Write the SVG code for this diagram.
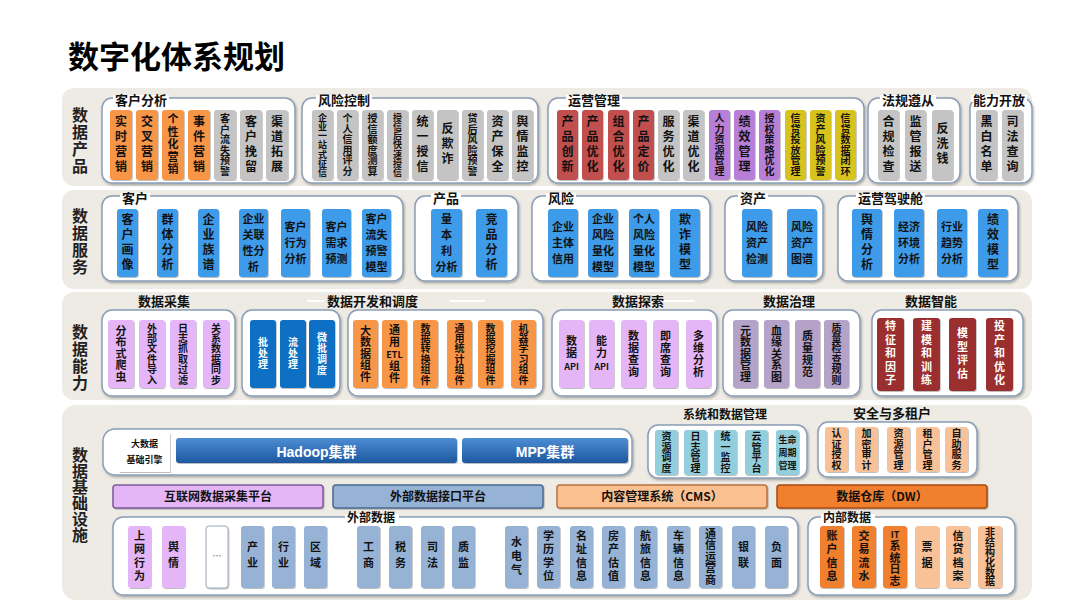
<svg xmlns="http://www.w3.org/2000/svg" width="1080" height="607" viewBox="0 0 1080 607">
<defs>
<filter id="sh" x="-10%" y="-10%" width="130%" height="130%"><feDropShadow dx="1" dy="1.5" stdDeviation="1" flood-color="#000" flood-opacity="0.3"/></filter>
<filter id="sb" x="-20%" y="-10%" width="150%" height="130%"><feDropShadow dx="0.8" dy="1" stdDeviation="0.6" flood-color="#000" flood-opacity="0.25"/></filter>
<linearGradient id="hg" x1="0" y1="0" x2="0" y2="1"><stop offset="0" stop-color="#4d8dd4"/><stop offset="1" stop-color="#1d58a0"/></linearGradient>
<style>
.band{fill:#edebe3}
.grp{fill:#fff;stroke:#8b9db6;stroke-width:1.5;filter:url(#sh)}
.t{font-family:"Noto Sans CJK SC","Noto Sans CJK JP",sans-serif;font-weight:700;text-anchor:middle;fill:#111}
.v{writing-mode:vertical-rl;text-anchor:middle}
.gt{font-size:13px;text-anchor:start}
.L16{font-size:16px;letter-spacing:1px;fill:#222}
.w{fill:#fff}
.f12{font-size:12px}.f11{font-size:11px}.f10{font-size:10px}.f9{font-size:9px}
.a12{font-size:12px;letter-spacing:3px}.a11{font-size:11px;letter-spacing:1.5px}.a10{font-size:10px;letter-spacing:0.5px}.a9{font-size:9px;letter-spacing:0.2px}
.c11{font-size:11px;letter-spacing:1px}.c115{font-size:11px;letter-spacing:0.5px}.c10{font-size:10px;letter-spacing:0.4px}.cd{font-size:10px;letter-spacing:1px}.cr{font-size:11px;letter-spacing:2.5px}
.e2{font-size:11px;letter-spacing:5px}.e3{font-size:11px;letter-spacing:3px}.e4{font-size:11px;letter-spacing:2.5px}.e6{font-size:10px;letter-spacing:-0.2px}
.cv{fill:#fff}
.b{filter:url(#sb)}
.or{fill:#f79646}.gy{fill:#c4c4c4}.rd{fill:#c0504d}.pu{fill:#b77fd8}.ye{fill:#d8c31c}.bl{fill:#3d9be9}
.lv{fill:#e4b6f7}.db{fill:#1170c4}.gp{fill:#b4a2c9}.dr{fill:#9b2e2e}.lb{fill:#93cedd}.pe{fill:#f9c197}.eb{fill:#96b3d6}.o2{fill:#f07f2e}
.pl{stroke-width:1.5}
</style>
</defs>
<rect width="1080" height="607" fill="#fff"/>
<text class="t" x="68" y="68" style="font-size:31px;text-anchor:start;fill:#000">数字化体系规划</text>

<!-- bands -->
<rect class="band" x="62" y="88" width="970" height="98" rx="12"/>
<rect class="band" x="62" y="190" width="970" height="99" rx="12"/>
<rect class="band" x="62" y="292" width="970" height="108" rx="12"/>
<rect class="band" x="62" y="405" width="970" height="195" rx="14"/>

<g id="labels">
<text class="t v L16" x="80" y="141">数据产品</text>
<text class="t v L16" x="80" y="242">数据服务</text>
<text class="t v L16" x="80" y="358">数据能力</text>
<text class="t v L16" x="80" y="495" style="letter-spacing:0">数据基础设施</text>
</g>

<!-- ============ Band 1: 数据产品 ============ -->
<g id="g-kehufenxi">
<rect class="grp" x="102" y="98" width="193" height="85" rx="10"/>
<rect class="cv" x="113" y="95" width="56" height="7"/>
<text class="t gt" x="115" y="104.5">客户分析</text>
</g>
<g id="n-shishiyingxiao"><rect class="b or" x="110" y="110" width="22" height="70" rx="3"/><text class="t v a12" x="121" y="145">实时营销</text></g>
<g id="n-jiaochayingxiao"><rect class="b or" x="136" y="110" width="22" height="70" rx="3"/><text class="t v a12" x="147" y="145">交叉营销</text></g>
<g id="n-gexinghua"><rect class="b or" x="162" y="110" width="22" height="70" rx="3"/><text class="t v a11" x="173" y="145">个性化营销</text></g>
<g id="n-shijianyingxiao"><rect class="b or" x="188" y="110" width="22" height="70" rx="3"/><text class="t v a12" x="199" y="145">事件营销</text></g>
<g id="n-liushiyujing"><rect class="b gy" x="214" y="110" width="22" height="70" rx="3"/><text class="t v a10" x="225" y="145">客户流失预警</text></g>
<g id="n-kehuwanliu"><rect class="b gy" x="240" y="110" width="22" height="70" rx="3"/><text class="t v a12" x="251" y="145">客户挽留</text></g>
<g id="n-qudaotuozhan"><rect class="b gy" x="266" y="110" width="22" height="70" rx="3"/><text class="t v a12" x="277" y="145">渠道拓展</text></g>

<g id="g-fengxiankongzhi">
<rect class="grp" x="302" y="98" width="236" height="85" rx="10"/>
<rect class="cv" x="316" y="95" width="56" height="7"/>
<text class="t gt" x="318" y="104.5">风险控制</text>
</g>
<g id="n-yizhanshi"><rect class="b gy" x="312" y="110" width="21" height="70" rx="3"/><text class="t v a9" x="322.5" y="145">企业一站式征信</text></g>
<g id="n-xinyongpingfen"><rect class="b gy" x="337" y="110" width="21" height="70" rx="3"/><text class="t v a10" x="347.5" y="145">个人信用评分</text></g>
<g id="n-edu"><rect class="b gy" x="362" y="110" width="21" height="70" rx="3"/><text class="t v a10" x="372.5" y="145">授信额度测算</text></g>
<g id="n-kuaisushouxin"><rect class="b gy" x="387" y="110" width="21" height="70" rx="3"/><text class="t v a9" x="397.5" y="145">授信后快速授信</text></g>
<g id="n-tongyishouxin"><rect class="b gy" x="412" y="110" width="21" height="70" rx="3"/><text class="t v a12" x="422.5" y="145">统一授信</text></g>
<g id="n-fanqizha"><rect class="b gy" x="437" y="110" width="21" height="70" rx="3"/><text class="t v a12" x="447.5" y="145">反欺诈</text></g>
<g id="n-daihou"><rect class="b gy" x="462" y="110" width="21" height="70" rx="3"/><text class="t v a10" x="472.5" y="145">贷后风险预警</text></g>
<g id="n-zichanbaoquan"><rect class="b gy" x="487" y="110" width="21" height="70" rx="3"/><text class="t v a12" x="497.5" y="145">资产保全</text></g>
<g id="n-yuqingjiankong"><rect class="b gy" x="512" y="110" width="21" height="70" rx="3"/><text class="t v a12" x="522.5" y="145">舆情监控</text></g>

<g id="g-yunyingguanli">
<rect class="grp" x="548" y="98" width="316" height="85" rx="10"/>
<rect class="cv" x="566" y="95" width="56" height="7"/>
<text class="t gt" x="568" y="104.5">运营管理</text>
</g>
<g id="n-chanpinchuangxin"><rect class="b rd" x="557" y="110" width="21" height="70" rx="3"/><text class="t v a12" x="567.5" y="145">产品创新</text></g>
<g id="n-chanpinyouhua"><rect class="b rd" x="582" y="110" width="21" height="70" rx="3"/><text class="t v a12" x="592.5" y="145">产品优化</text></g>
<g id="n-zuheyouhua"><rect class="b rd" x="608" y="110" width="21" height="70" rx="3"/><text class="t v a12" x="618.5" y="145">组合优化</text></g>
<g id="n-chanpindingjia"><rect class="b rd" x="633" y="110" width="21" height="70" rx="3"/><text class="t v a12" x="643.5" y="145">产品定价</text></g>
<g id="n-fuwuyouhua"><rect class="b gy" x="658" y="110" width="21" height="70" rx="3"/><text class="t v a12" x="668.5" y="145">服务优化</text></g>
<g id="n-qudaoyouhua"><rect class="b gy" x="683" y="110" width="21" height="70" rx="3"/><text class="t v a12" x="693.5" y="145">渠道优化</text></g>
<g id="n-renliziyuan"><rect class="b pu" x="709" y="110" width="21" height="70" rx="3"/><text class="t v a10" x="719.5" y="145">人力资源管理</text></g>
<g id="n-jixiaoguanli"><rect class="b pu" x="734" y="110" width="21" height="70" rx="3"/><text class="t v a12" x="744.5" y="145">绩效管理</text></g>
<g id="n-shouquancelue"><rect class="b pu" x="759" y="110" width="21" height="70" rx="3"/><text class="t v a10" x="769.5" y="145">授权策略优化</text></g>
<g id="n-xindaitoufang"><rect class="b ye" x="785" y="110" width="21" height="70" rx="3"/><text class="t v a10" x="795.5" y="145">信贷投放管理</text></g>
<g id="n-zichanfengxian"><rect class="b ye" x="810" y="110" width="21" height="70" rx="3"/><text class="t v a10" x="820.5" y="145">资产风险预警</text></g>
<g id="n-xindaibihuan"><rect class="b ye" x="835" y="110" width="21" height="70" rx="3"/><text class="t v a10" x="845.5" y="145">信贷数据闭环</text></g>

<g id="g-faguizunchong">
<rect class="grp" x="868" y="98" width="92" height="85" rx="10"/>
<rect class="cv" x="880" y="95" width="56" height="7"/>
<text class="t gt" x="882" y="104.5">法规遵从</text>
</g>
<g id="n-heguijiancha"><rect class="b gy" x="878" y="110" width="21" height="70" rx="3"/><text class="t v a12" x="888.5" y="145">合规检查</text></g>
<g id="n-jianguanbaosong"><rect class="b gy" x="905" y="110" width="21" height="70" rx="3"/><text class="t v a12" x="915.5" y="145">监管报送</text></g>
<g id="n-fanxiqian"><rect class="b gy" x="932" y="110" width="21" height="70" rx="3"/><text class="t v a12" x="942.5" y="145">反洗钱</text></g>

<g id="g-nenglikaifang">
<rect class="grp" x="970" y="98" width="62" height="85" rx="10"/>
<rect class="cv" x="971" y="95" width="56" height="7"/>
<text class="t gt" x="973" y="104.5">能力开放</text>
</g>
<g id="n-heibaimingdan"><rect class="b gy" x="976" y="110" width="21" height="70" rx="3"/><text class="t v a12" x="986.5" y="145">黑白名单</text></g>
<g id="n-sifachaxun"><rect class="b gy" x="1002" y="110" width="21" height="70" rx="3"/><text class="t v a12" x="1012.5" y="145">司法查询</text></g>

<!-- ============ Band 2: 数据服务 ============ -->
<g id="g-kehu">
<rect class="grp" x="102" y="196" width="301" height="85" rx="10"/>
<rect class="cv" x="120" y="193" width="30" height="7"/>
<text class="t gt" x="122" y="202.5">客户</text>
</g>
<g id="n-kehuhuaxiang"><rect class="b bl" x="117" y="209" width="21" height="68" rx="3"/><text class="t v a12" x="127.5" y="243">客户画像</text></g>
<g id="n-qunti"><rect class="b bl" x="157" y="209" width="21" height="68" rx="3"/><text class="t v a12" x="167.5" y="243">群体分析</text></g>
<g id="n-zupu"><rect class="b bl" x="198" y="209" width="21" height="68" rx="3"/><text class="t v a12" x="208.5" y="243">企业族谱</text></g>
<g id="n-guanlian"><rect class="b bl" x="239" y="209" width="29" height="68" rx="3"/><text class="t f11" x="253.5" y="223.2">企业<tspan x="253.5" dy="16">关联</tspan><tspan x="253.5" dy="16">性分</tspan><tspan x="253.5" dy="16">析</tspan></text></g>
<g id="n-xingwei"><rect class="b bl" x="281" y="209" width="29" height="68" rx="3"/><text class="t f11" x="295.5" y="231.2">客户<tspan x="295.5" dy="16">行为</tspan><tspan x="295.5" dy="16">分析</tspan></text></g>
<g id="n-xuqiu"><rect class="b bl" x="322" y="209" width="29" height="68" rx="3"/><text class="t f11" x="336.5" y="231.2">客户<tspan x="336.5" dy="16">需求</tspan><tspan x="336.5" dy="16">预测</tspan></text></g>
<g id="n-liushimoxing"><rect class="b bl" x="362" y="209" width="29" height="68" rx="3"/><text class="t f11" x="376.5" y="223.2">客户<tspan x="376.5" dy="16">流失</tspan><tspan x="376.5" dy="16">预警</tspan><tspan x="376.5" dy="16">模型</tspan></text></g>

<g id="g-chanpin">
<rect class="grp" x="415" y="196" width="103" height="85" rx="10"/>
<rect class="cv" x="431" y="193" width="30" height="7"/>
<text class="t gt" x="433" y="202.5">产品</text>
</g>
<g id="n-liangbenli"><rect class="b bl" x="431" y="209" width="31" height="68" rx="3"/><text class="t f11" x="446.5" y="223.2">量<tspan x="446.5" dy="16">本</tspan><tspan x="446.5" dy="16">利</tspan><tspan x="446.5" dy="16">分析</tspan></text></g>
<g id="n-jingpin"><rect class="b bl" x="476" y="209" width="31" height="68" rx="3"/><text class="t v a12" x="491.5" y="243">竞品分析</text></g>

<g id="g-fengxian">
<rect class="grp" x="532" y="196" width="178" height="85" rx="10"/>
<rect class="cv" x="546" y="193" width="30" height="7"/>
<text class="t gt" x="548" y="202.5">风险</text>
</g>
<g id="n-zhutixinyong"><rect class="b bl" x="548" y="209" width="30" height="68" rx="3"/><text class="t f11" x="563" y="231.2">企业<tspan x="563" dy="16">主体</tspan><tspan x="563" dy="16">信用</tspan></text></g>
<g id="n-qiyefengxian"><rect class="b bl" x="588" y="209" width="30" height="68" rx="3"/><text class="t f11" x="603" y="223.2">企业<tspan x="603" dy="16">风险</tspan><tspan x="603" dy="16">量化</tspan><tspan x="603" dy="16">模型</tspan></text></g>
<g id="n-gerenfengxian"><rect class="b bl" x="629" y="209" width="30" height="68" rx="3"/><text class="t f11" x="644" y="223.2">个人<tspan x="644" dy="16">风险</tspan><tspan x="644" dy="16">量化</tspan><tspan x="644" dy="16">模型</tspan></text></g>
<g id="n-qizhamoxing"><rect class="b bl" x="670" y="209" width="30" height="68" rx="3"/><text class="t v a12" x="685" y="243">欺诈模型</text></g>

<g id="g-zichan">
<rect class="grp" x="725" y="196" width="98" height="85" rx="10"/>
<rect class="cv" x="738" y="193" width="30" height="7"/>
<text class="t gt" x="740" y="202.5">资产</text>
</g>
<g id="n-zichanjiance"><rect class="b bl" x="742" y="209" width="30" height="68" rx="3"/><text class="t f11" x="757" y="231.2">风险<tspan x="757" dy="16">资产</tspan><tspan x="757" dy="16">检测</tspan></text></g>
<g id="n-zichantupu"><rect class="b bl" x="787" y="209" width="30" height="68" rx="3"/><text class="t f11" x="802" y="231.2">风险<tspan x="802" dy="16">资产</tspan><tspan x="802" dy="16">图谱</tspan></text></g>

<g id="g-jiashicang">
<rect class="grp" x="838" y="196" width="180" height="85" rx="10"/>
<rect class="cv" x="856" y="193" width="69" height="7"/>
<text class="t gt" x="858" y="202.5">运营驾驶舱</text>
</g>
<g id="n-yuqingfenxi"><rect class="b bl" x="852" y="209" width="30" height="68" rx="3"/><text class="t v a12" x="867" y="243">舆情分析</text></g>
<g id="n-jingjihuanjing"><rect class="b bl" x="894" y="209" width="30" height="68" rx="3"/><text class="t f11" x="909" y="231.2">经济<tspan x="909" dy="16">环境</tspan><tspan x="909" dy="16">分析</tspan></text></g>
<g id="n-hangyequshi"><rect class="b bl" x="937" y="209" width="30" height="68" rx="3"/><text class="t f11" x="952" y="231.2">行业<tspan x="952" dy="16">趋势</tspan><tspan x="952" dy="16">分析</tspan></text></g>
<g id="n-jixiaomoxing"><rect class="b bl" x="978" y="209" width="30" height="68" rx="3"/><text class="t v a12" x="993" y="243">绩效模型</text></g>

<!-- ============ Band 3: 数据能力 ============ -->
<g id="band3-titles">
<line x1="307" y1="301" x2="324" y2="301" stroke="#fff" stroke-width="2"/>
<line x1="450" y1="301" x2="485" y2="301" stroke="#fff" stroke-width="2"/>
<line x1="663" y1="301" x2="695" y2="301" stroke="#fff" stroke-width="2"/>
<text class="t gt" x="138" y="305.5">数据采集</text>
<text class="t gt" x="327" y="305.5">数据开发和调度</text>
<text class="t gt" x="612" y="305.5">数据探索</text>
<text class="t gt" x="763" y="305.5">数据治理</text>
<text class="t gt" x="905" y="305.5">数据智能</text>
</g>
<g id="g-caiji"><rect class="grp" x="102" y="310" width="133" height="86" rx="10"/></g>
<g id="n-pachong"><rect class="b lv" x="108" y="320" width="26" height="68" rx="3"/><text class="t v c115" x="121" y="354">分布式爬虫</text></g>
<g id="n-wenjiandaoru"><rect class="b lv" x="139" y="320" width="26" height="68" rx="3"/><text class="t v c10" x="152" y="354">外部文件导入</text></g>
<g id="n-rizhizhuaqu"><rect class="b lv" x="170" y="320" width="26" height="68" rx="3"/><text class="t v c10" x="183" y="354">日志抓取过滤</text></g>
<g id="n-shujutongbu"><rect class="b lv" x="203" y="320" width="26" height="68" rx="3"/><text class="t v c10" x="216" y="354">关系数据同步</text></g>

<g id="g-diaodu"><rect class="grp" x="242" y="310" width="98" height="86" rx="10"/></g>
<g id="n-pichuli"><rect class="b db" x="250" y="320" width="26" height="68" rx="3"/><text class="t v cd w" x="263" y="354">批处理</text></g>
<g id="n-liuchuli"><rect class="b db" x="280" y="320" width="26" height="68" rx="3"/><text class="t v cd w" x="293" y="354">流处理</text></g>
<g id="n-weipi"><rect class="b db" x="309" y="320" width="26" height="68" rx="3"/><text class="t v cd w" x="322" y="354">微批调度</text></g>

<g id="g-zujian"><rect class="grp" x="348" y="310" width="195" height="86" rx="10"/></g>
<g id="n-dashuju"><rect class="b or" x="353" y="320" width="25" height="68" rx="3"/><text class="t v c115" x="365.5" y="354">大数据组件</text></g>
<g id="n-etl"><rect class="b or" x="382" y="320" width="25" height="68" rx="3"/><text class="t v c115" x="394.5" y="336">通用</text><text class="t f9" x="394.5" y="358">ETL</text><text class="t v c115" x="394.5" y="372">组件</text></g>
<g id="n-zhuanhuan"><rect class="b or" x="413" y="320" width="25" height="68" rx="3"/><text class="t v c10" x="425.5" y="354">数据转换组件</text></g>
<g id="n-tongji"><rect class="b or" x="447" y="320" width="25" height="68" rx="3"/><text class="t v c10" x="459.5" y="354">通用统计组件</text></g>
<g id="n-wajue"><rect class="b or" x="478" y="320" width="25" height="68" rx="3"/><text class="t v c10" x="490.5" y="354">数据挖掘组件</text></g>
<g id="n-jiqixuexi"><rect class="b or" x="511" y="320" width="25" height="68" rx="3"/><text class="t v c10" x="523.5" y="354">机器学习组件</text></g>

<g id="g-tansuo"><rect class="grp" x="552" y="310" width="165" height="86" rx="10"/></g>
<g id="n-shujuapi"><rect class="b lv" x="559" y="320" width="25" height="68" rx="3"/><text class="t v c11" x="571.5" y="347.6">数据</text><text class="t f9" x="571.5" y="369.8">API</text></g>
<g id="n-nengliapi"><rect class="b lv" x="589" y="320" width="25" height="68" rx="3"/><text class="t v c11" x="601.5" y="347.6">能力</text><text class="t f9" x="601.5" y="369.8">API</text></g>
<g id="n-shujuchaxun"><rect class="b lv" x="621" y="320" width="25" height="68" rx="3"/><text class="t v c11" x="633.5" y="354">数据查询</text></g>
<g id="n-jixichaxun"><rect class="b lv" x="653" y="320" width="25" height="68" rx="3"/><text class="t v c11" x="665.5" y="354">即席查询</text></g>
<g id="n-duowei"><rect class="b lv" x="686" y="320" width="25" height="68" rx="3"/><text class="t v c11" x="698.5" y="354">多维分析</text></g>

<g id="g-zhili"><rect class="grp" x="723" y="310" width="137" height="86" rx="10"/></g>
<g id="n-yuanshuju"><rect class="b gp" x="733" y="320" width="25" height="68" rx="3"/><text class="t v c115" x="745.5" y="354">元数据管理</text></g>
<g id="n-xueyuan"><rect class="b gp" x="764" y="320" width="25" height="68" rx="3"/><text class="t v c115" x="776.5" y="354">血缘关系图</text></g>
<g id="n-zhiliangguifan"><rect class="b gp" x="795" y="320" width="25" height="68" rx="3"/><text class="t v c11" x="807.5" y="354">质量规范</text></g>
<g id="n-jianchaguize"><rect class="b gp" x="824" y="320" width="25" height="68" rx="3"/><text class="t v c10" x="836.5" y="354">质量检查规则</text></g>

<g id="g-zhineng"><rect class="grp" x="872" y="310" width="151" height="86" rx="10"/></g>
<g id="n-tezheng"><rect class="b dr" x="877" y="318" width="27" height="73" rx="3"/><text class="t v cr w" x="890.5" y="354.5">特征和因子</text></g>
<g id="n-jianmo"><rect class="b dr" x="913" y="318" width="27" height="73" rx="3"/><text class="t v cr w" x="926.5" y="354.5">建模和训练</text></g>
<g id="n-pinggu"><rect class="b dr" x="949" y="318" width="27" height="73" rx="3"/><text class="t v cr w" x="962.5" y="354.5">模型评估</text></g>
<g id="n-touchan"><rect class="b dr" x="986" y="318" width="27" height="73" rx="3"/><text class="t v cr w" x="999.5" y="354.5">投产和优化</text></g>

<!-- ============ Band 4: 数据基础设施 ============ -->
<g id="g-engine">
<rect class="grp" x="103" y="429" width="529" height="46" rx="12"/>
</g>
<g id="n-engine-label"><rect x="119" y="433" width="51" height="39" fill="#fff" filter="url(#sb)"/><text class="t f9" x="144.5" y="447">大数据</text><text class="t f9" x="144.5" y="463">基础引擎</text></g>
<g id="n-hadoop"><rect x="176" y="438" width="281" height="25" rx="3" fill="url(#hg)" filter="url(#sb)"/><text class="t w" x="316.5" y="457" style="font-size:14px;font-family:'Liberation Sans','Noto Sans CJK SC',sans-serif">Hadoop集群</text></g>
<g id="n-mpp"><rect x="462" y="438" width="166" height="25" rx="3" fill="url(#hg)" filter="url(#sb)"/><text class="t w" x="545" y="457" style="font-size:14px;font-family:'Liberation Sans','Noto Sans CJK SC',sans-serif">MPP集群</text></g>

<g id="g-xitong">
<text class="t" x="683" y="419" style="font-size:12px;text-anchor:start">系统和数据管理</text>
<rect class="grp" x="648" y="425" width="159" height="53" rx="10"/>
</g>
<g id="n-ziyuandiaodu"><rect class="b lb" x="655" y="430" width="23" height="45" rx="3"/><text class="t v a10" x="666.5" y="452.5">资源调度</text></g>
<g id="n-rizhiguanli"><rect class="b lb" x="684" y="430" width="23" height="45" rx="3"/><text class="t v a10" x="695.5" y="452.5">日志管理</text></g>
<g id="n-tongyijiankong"><rect class="b lb" x="714" y="430" width="23" height="45" rx="3"/><text class="t v a10" x="725.5" y="452.5">统一监控</text></g>
<g id="n-yunguan"><rect class="b lb" x="745" y="430" width="23" height="45" rx="3"/><text class="t v a10" x="756.5" y="452.5">云管平台</text></g>
<g id="n-shengming"><rect class="b lb" x="776" y="430" width="23" height="45" rx="3"/><text class="t f9" x="787.5" y="442.9">生命<tspan x="787.5" dy="13">周期</tspan><tspan x="787.5" dy="13">管理</tspan></text></g>

<g id="g-anquan">
<text class="t gt" x="853" y="418">安全与多租户</text>
<rect class="grp" x="818" y="422" width="159" height="55" rx="10"/>
</g>
<g id="n-renzheng"><rect class="b pe" x="825" y="427" width="23" height="45" rx="3"/><text class="t v a10" x="836.5" y="449.5">认证授权</text></g>
<g id="n-jiami"><rect class="b pe" x="855" y="427" width="23" height="45" rx="3"/><text class="t v a10" x="866.5" y="449.5">加密审计</text></g>
<g id="n-ziyuanguanli"><rect class="b pe" x="887" y="427" width="23" height="45" rx="3"/><text class="t v a10" x="898.5" y="449.5">资源管理</text></g>
<g id="n-zuhu"><rect class="b pe" x="916" y="427" width="23" height="45" rx="3"/><text class="t v a10" x="927.5" y="449.5">租户管理</text></g>
<g id="n-zizhu"><rect class="b pe" x="945" y="427" width="23" height="45" rx="3"/><text class="t v a10" x="956.5" y="449.5">自助服务</text></g>

<g id="n-hulianwang"><rect class="b pl" x="113" y="485" width="210" height="23" rx="3" fill="#e4b6f7" stroke="#7d5a9c"/><text class="t f12" x="218" y="501">互联网数据采集平台</text></g>
<g id="n-waibujiekou"><rect class="b pl" x="333" y="485" width="210" height="23" rx="3" fill="#96b3d6" stroke="#4a6a93"/><text class="t f12" x="438" y="501">外部数据接口平台</text></g>
<g id="n-cms"><rect class="b pl" x="557" y="485" width="210" height="23" rx="3" fill="#fac090" stroke="#b8703f"/><text class="t f12" x="662" y="501">内容管理系统（CMS）</text></g>
<g id="n-dw"><rect class="b pl" x="777" y="485" width="210" height="23" rx="3" fill="#f07f2e" stroke="#a84a12"/><text class="t f12" x="882" y="501">数据仓库（DW）</text></g>

<g id="g-waibushuju">
<rect class="grp" x="113" y="517" width="685" height="78" rx="10"/>
<rect class="cv" x="345" y="514" width="54" height="7"/>
<text class="t" x="347" y="522" style="font-size:12px;text-anchor:start">外部数据</text>
</g>
<g id="n-shangwang"><rect class="b lv" x="128" y="526" width="23" height="62" rx="3"/><text class="t v e4" x="139.5" y="557">上网行为</text></g>
<g id="n-yuqing"><rect class="b lv" x="162" y="526" width="23" height="62" rx="3"/><text class="t v e2" x="173.5" y="557">舆情</text></g>
<g id="n-more"><rect class="b" x="206" y="526" width="22" height="62" rx="3" fill="#fff" stroke="#9aa8bb" stroke-width="1"/><text class="t" x="217" y="559" style="font-size:9px;fill:#888">…</text></g>
<g id="n-chanye"><rect class="b eb" x="241" y="526" width="23" height="62" rx="3"/><text class="t v e2" x="252.5" y="557">产业</text></g>
<g id="n-hangye"><rect class="b eb" x="272" y="526" width="23" height="62" rx="3"/><text class="t v e2" x="283.5" y="557">行业</text></g>
<g id="n-quyu"><rect class="b eb" x="304" y="526" width="23" height="62" rx="3"/><text class="t v e2" x="315.5" y="557">区域</text></g>
<g id="n-gongshang"><rect class="b eb" x="357" y="526" width="23" height="62" rx="3"/><text class="t v e2" x="368.5" y="557">工商</text></g>
<g id="n-shuiwu"><rect class="b eb" x="389" y="526" width="23" height="62" rx="3"/><text class="t v e2" x="400.5" y="557">税务</text></g>
<g id="n-sifa"><rect class="b eb" x="421" y="526" width="23" height="62" rx="3"/><text class="t v e2" x="432.5" y="557">司法</text></g>
<g id="n-zhijian"><rect class="b eb" x="452" y="526" width="23" height="62" rx="3"/><text class="t v e2" x="463.5" y="557">质监</text></g>
<g id="n-shuidianqi"><rect class="b eb" x="505" y="526" width="23" height="62" rx="3"/><text class="t v e3" x="516.5" y="557">水电气</text></g>
<g id="n-xueli"><rect class="b eb" x="537" y="526" width="23" height="62" rx="3"/><text class="t v e4" x="548.5" y="557">学历学位</text></g>
<g id="n-mingzhi"><rect class="b eb" x="570" y="526" width="23" height="62" rx="3"/><text class="t v e4" x="581.5" y="557">名址信息</text></g>
<g id="n-fangchan"><rect class="b eb" x="602" y="526" width="23" height="62" rx="3"/><text class="t v e4" x="613.5" y="557">房产估值</text></g>
<g id="n-hanglv"><rect class="b eb" x="634" y="526" width="23" height="62" rx="3"/><text class="t v e4" x="645.5" y="557">航旅信息</text></g>
<g id="n-cheliang"><rect class="b eb" x="667" y="526" width="23" height="62" rx="3"/><text class="t v e4" x="678.5" y="557">车辆信息</text></g>
<g id="n-tongxin"><rect class="b eb" x="699" y="526" width="23" height="62" rx="3"/><text class="t v c115" x="710.5" y="557">通信运营商</text></g>
<g id="n-yinlian"><rect class="b eb" x="732" y="526" width="23" height="62" rx="3"/><text class="t v e2" x="743.5" y="557">银联</text></g>
<g id="n-fumian"><rect class="b eb" x="765" y="526" width="23" height="62" rx="3"/><text class="t v e2" x="776.5" y="557">负面</text></g>

<g id="g-neibushuju">
<rect class="grp" x="808" y="517" width="207" height="78" rx="10"/>
<rect class="cv" x="821" y="514" width="54" height="7"/>
<text class="t" x="823" y="522" style="font-size:12px;text-anchor:start">内部数据</text>
</g>
<g id="n-zhanghu"><rect class="b o2" x="820" y="526" width="24" height="62" rx="3"/><text class="t v e4" x="832" y="557">账户信息</text></g>
<g id="n-jiaoyi"><rect class="b o2" x="852" y="526" width="24" height="62" rx="3"/><text class="t v e4" x="864" y="557">交易流水</text></g>
<g id="n-itrizhi"><rect class="b o2" x="883" y="526" width="24" height="62" rx="3"/><text class="t f9" x="895" y="537.9">IT</text><text class="t v c115" x="895" y="563.5">系统日志</text></g>
<g id="n-piaoju"><rect class="b pe" x="915" y="526" width="24" height="62" rx="3"/><text class="t v e2" x="927" y="557">票据</text></g>
<g id="n-xindaidangan"><rect class="b pe" x="946" y="526" width="24" height="62" rx="3"/><text class="t v e4" x="958" y="557">信贷档案</text></g>
<g id="n-feijiegouhua"><rect class="b pe" x="978" y="526" width="24" height="62" rx="3"/><text class="t v e6" x="990" y="557">非结构化数据</text></g>

<g id="connectors"/>
</svg>
